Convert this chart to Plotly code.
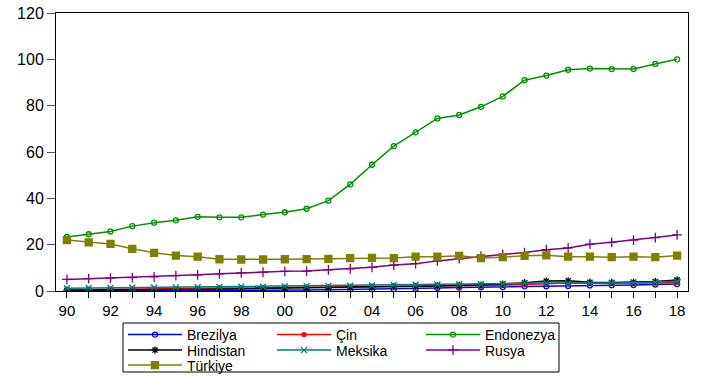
import plotly.graph_objects as go

years = list(range(1990, 2019))
year_labels = [str(y)[2:] if y % 2 == 0 else "" for y in years]

brezilya = [0.1,0.1,0.1,0.1,0.1,0.1,0.2,0.2,0.2,0.3,0.3,0.4,0.5,0.6,0.7,0.8,1.0,1.3,1.5,1.6,1.7,2.0,2.1,2.2,2.4,2.5,2.6,2.8,3.0]
cin = [0.5,0.6,0.6,0.7,0.8,0.9,1.0,1.1,1.2,1.2,1.3,1.4,1.5,1.6,1.7,1.8,1.9,2.0,2.1,2.2,2.5,2.8,3.2,3.4,3.3,3.3,3.4,3.5,3.8]
endonezya = [23.3,24.5,25.7,28.0,29.5,30.5,32.0,31.8,31.8,33.0,34.0,35.5,39.0,46.0,54.5,62.5,68.5,74.5,76.0,79.5,84.0,91.0,93.0,95.5,96.0,95.8,95.8,98.0,100.0]
hindistan = [0.3,0.3,0.4,0.5,0.6,0.6,0.7,0.8,0.9,1.0,1.2,1.3,1.4,1.6,1.7,1.9,2.0,2.2,2.4,2.6,3.0,3.6,4.3,4.4,3.8,3.7,3.8,4.1,4.8]
meksika = [1.2,1.3,1.3,1.4,1.5,1.5,1.6,1.7,1.8,1.8,2.0,2.1,2.2,2.3,2.4,2.6,2.7,2.8,2.9,2.9,3.0,3.3,3.5,3.4,3.4,3.5,3.6,3.8,4.2]
rusya = [5.0,5.3,5.6,5.8,6.1,6.6,7.0,7.4,7.8,8.1,8.5,8.6,9.1,9.6,10.2,11.2,11.8,13.0,14.0,15.0,15.8,16.6,17.8,18.6,20.2,21.0,22.0,23.0,24.2]
turkiye = [22.0,21.0,20.3,18.2,16.5,15.3,14.8,13.7,13.6,13.6,13.7,13.8,13.9,14.2,14.3,14.2,14.8,14.8,15.2,14.2,14.6,15.2,15.4,14.8,14.8,14.6,14.8,14.6,15.3]

series = [
    ("Brezilya", brezilya, "#0000FF", "circle-open", 5, "legend"),
    ("Çin", cin, "#FF0000", "circle", 4, "legend"),
    ("Endonezya", endonezya, "#009000", "circle-open", 5, "legend"),
    ("Hindistan", hindistan, "#000000", "asterisk-open", 6, "legend2"),
    ("Meksika", meksika, "#008080", "x-thin-open", 6, "legend2"),
    ("Rusya", rusya, "#800080", "cross-thin-open", 7, "legend2"),
    ("Türkiye", turkiye, "#808000", "square", 7, "legend3"),
]

fig = go.Figure()
for name, vals, color, sym, size, lg in series:
    fig.add_trace(go.Scatter(
        x=years, y=vals, name=name, mode="lines+markers", legend=lg,
        line=dict(color=color, width=1.5),
        marker=dict(symbol=sym, size=size, color=color,
                    line=dict(color=color, width=1.3)),
    ))

# plot area in page pixels: x 56..688, y 13..291
def px_x(p):
    return (p - 56) / 632.0

def px_y(p):
    return (291 - p) / 278.0

leg_common = dict(
    orientation="h", xanchor="left", yanchor="middle",
    entrywidth=80, entrywidthmode="pixels", itemwidth=54,
    borderwidth=0, bgcolor="rgba(0,0,0,0)",
    font=dict(size=14, family="Liberation Sans, Arial, sans-serif"), tracegroupgap=0,
)

fig.update_layout(
    width=705, height=376,
    margin=dict(l=56, r=17, t=13, b=85, autoexpand=False),
    paper_bgcolor="white", plot_bgcolor="white",
    font=dict(family="Liberation Sans, Arial, sans-serif", size=13, color="black"),
    showlegend=True,
    legend=dict(x=px_x(123), y=px_y(335), **leg_common),
    legend2=dict(x=px_x(123), y=px_y(350.5), **leg_common),
    legend3=dict(x=px_x(123), y=px_y(365.5), **leg_common),
    shapes=[dict(type="rect", xref="paper", yref="paper",
                 x0=px_x(123), x1=px_x(559), y0=px_y(372), y1=px_y(323),
                 line=dict(color="black", width=1), fillcolor="rgba(0,0,0,0)")],
    xaxis=dict(
        range=[1989.5, 2018.5], tickmode="array", tickvals=years, ticktext=year_labels,
        ticks="outside", ticklen=6, tickcolor="black", showgrid=False, zeroline=False,
        showline=True, linecolor="black", linewidth=1, mirror=True,
        tickfont=dict(size=15), ticklabeloverflow="allow",
    ),
    yaxis=dict(
        range=[0, 120], tickvals=[0, 20, 40, 60, 80, 100, 120],
        ticks="outside", ticklen=8, tickcolor="#555555", showgrid=False, zeroline=False,
        showline=True, linecolor="black", linewidth=1, mirror=True,
        tickfont=dict(size=16), ticklabeloverflow="allow",
    ),
)

fig.write_html("out.html", config={"displayModeBar": False},
               post_script="document.body.style.margin='0';")
